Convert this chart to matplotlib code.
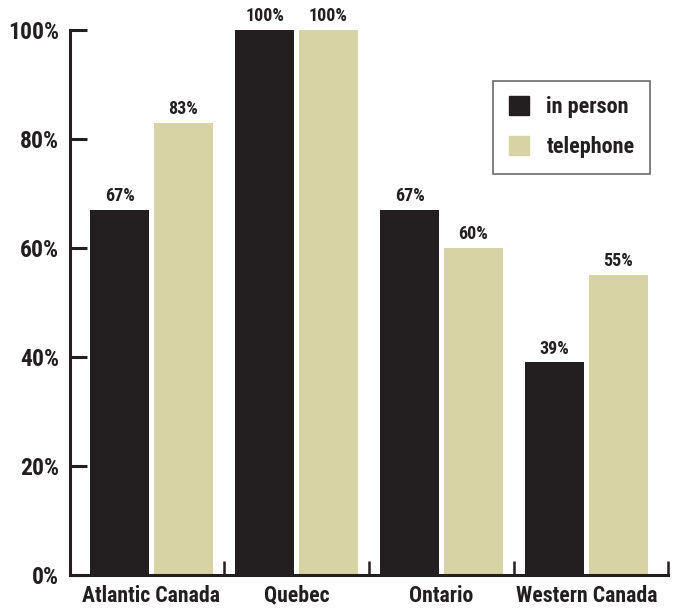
import numpy as np
import matplotlib
matplotlib.use('Agg')
import matplotlib.pyplot as plt
from matplotlib.patches import Patch
from matplotlib import font_manager

regions = ['Atlantic Canada', 'Quebec', 'Ontario', 'Western Canada']
in_person = [67, 100, 67, 39]
telephone = [83, 100, 60, 55]
yticks = [0, 20, 40, 60, 80, 100]

dark = '#231f20'
tan = '#d8d3a4'

# pick a condensed family if one is installed
names = set(f.name for f in font_manager.fontManager.ttflist)
font = 'DejaVu Sans'
for cand in ['Roboto Condensed', 'Liberation Sans Narrow', 'DejaVu Sans Condensed',
             'Open Sans Condensed', 'Noto Sans Condensed']:
    if cand in names:
        font = cand
        break
plt.rcParams['font.family'] = [font, 'DejaVu Sans']
plt.rcParams['font.weight'] = 'bold'
plt.rcParams['font.stretch'] = 'condensed'

fig = plt.figure(figsize=(6.76, 6.10), dpi=100)
ax = fig.add_axes([70/676, 1 - 575/610, (668 - 70)/676, 545/610])

x = np.arange(len(regions))
w = 0.41
off = 0.22
b1 = ax.bar(x - off, in_person, w, color=dark, label='in person')
b2 = ax.bar(x + off, telephone, w, color=tan, label='telephone')

for bars, vals in ((b1, in_person), (b2, telephone)):
    for r, v in zip(bars, vals):
        ax.text(r.get_x() + r.get_width()/2, v + 0.9, '%d%%' % v,
                ha='center', va='bottom', fontsize=13, color=dark)

xmin, xmax = -0.562, 3.562
ax.set_xlim(xmin, xmax)
ax.set_ylim(0, 100)
ax.set_yticks(yticks)
ax.set_yticklabels(['%d%%' % t for t in yticks], fontsize=17, color=dark)
ax.set_xticks(x)
ax.set_xticklabels(regions, fontsize=15.7, color=dark)
ax.tick_params(axis='x', length=0, pad=7)
ax.tick_params(axis='y', direction='in', length=12, width=2.2, color=dark, pad=8)
ax.set_xticks(list(x[:-1] + 0.5) + [xmax], minor=True)
ax.tick_params(axis='x', which='minor', direction='in', length=10, width=1.8, color=dark)

for s in ['top', 'right']:
    ax.spines[s].set_visible(False)
for s in ['left', 'bottom']:
    ax.spines[s].set_linewidth(2.2)
    ax.spines[s].set_color(dark)

leg = ax.legend(handles=[Patch(color=dark, label='in person'), Patch(color=tan, label='telephone')],
                loc='upper right', bbox_to_anchor=(0.97, 0.907), fontsize=16,
                frameon=True, fancybox=False, handlelength=0.9, handleheight=0.9,
                handletextpad=0.8, borderpad=0.7, labelspacing=0.8, borderaxespad=0)
leg.get_frame().set_edgecolor('#444444')
leg.get_frame().set_linewidth(1.2)
for t in leg.get_texts():
    t.set_color(dark)

fig.savefig('out.png', dpi=100)
